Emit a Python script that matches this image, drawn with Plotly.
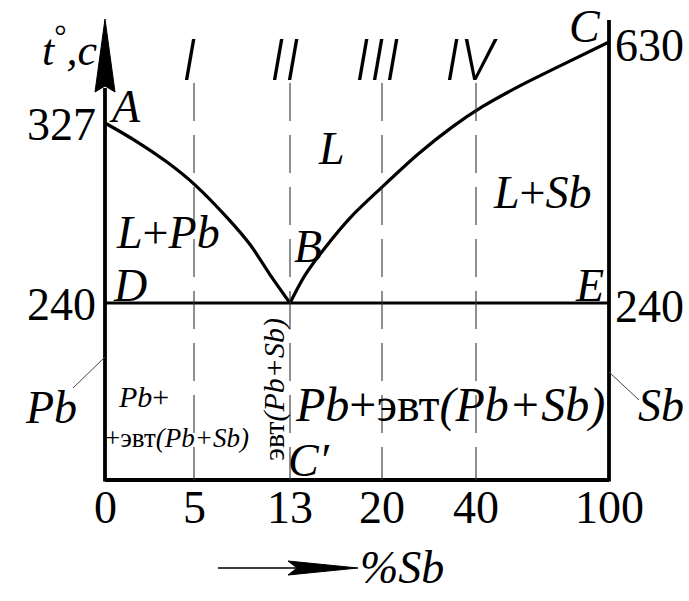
import numpy as np
import plotly.graph_objects as go

# ---------------- data ----------------
comp_ticks = [0, 5, 13, 20, 40, 100]           # % Sb
comp_labels = ["0", "5", "13", "20", "40", "100"]
alloy_comp = [5, 13, 20, 40]
alloy_labels = ["I", "II", "III", "IV"]
temp_left = [327, 240]
temp_right = [630, 240]
eutectic_T = 240
eutectic_comp = 13

# liquidus A-B (Pb side)
liqA_comp = [0, 1.6, 3.5, 5.1, 7.8, 9.7, 11.3, 13]
liqA_temp = [327, 319, 308, 297, 281, 268, 254, 240]
# liquidus B-C (Sb side)
liqC_comp = [13, 14.1, 15.7, 17.7, 20, 27.7, 34.9, 42.7, 58.9, 77, 100]
liqC_temp = [240, 253, 267, 282, 296, 312, 325, 387, 462, 537, 630]

# ---------------- schematic scale (non-linear axes of the diagram) ----------------
X_PX = [105, 194, 290, 382, 476, 609]
T_ANCH = [240, 327, 630]
T_PX = [303, 123, 42]
Y_BASE = 480
Y_DASH_TOP = 83


def sx(c):
    return np.interp(c, comp_ticks, X_PX)


def sy(t):
    return np.interp(t, T_ANCH, T_PX)


SERIF = "Liberation Serif, Times New Roman, serif"
BIG = 46

fig = go.Figure()

# liquidus curves
for cs, ts in ((liqA_comp, liqA_temp), (liqC_comp, liqC_temp)):
    fig.add_trace(go.Scatter(
        x=sx(cs), y=sy(ts), mode="lines",
        line=dict(color="black", width=3.2, shape="spline", smoothing=0.8),
        hoverinfo="skip"))

x0, x1 = sx(0), sx(100)
shapes = []
# frame
shapes.append(dict(type="line", x0=x0, x1=x0, y0=Y_BASE + 1.5, y1=88, line=dict(color="black", width=3.8)))
shapes.append(dict(type="line", x0=x1, x1=x1, y0=Y_BASE + 1.5, y1=20, line=dict(color="black", width=3.8)))
shapes.append(dict(type="line", x0=x0, x1=x1, y0=Y_BASE, y1=Y_BASE, line=dict(color="black", width=3.8)))
# eutectic line
shapes.append(dict(type="line", x0=x0, x1=x1, y0=sy(eutectic_T), y1=sy(eutectic_T),
                   line=dict(color="black", width=3.2)))
# alloy dashed lines
for c in alloy_comp:
    shapes.append(dict(type="line", x0=sx(c), x1=sx(c), y0=Y_DASH_TOP, y1=Y_BASE,
                       line=dict(color="#333333", width=1.1, dash="38px,14px")))
# top arrow head on temperature axis
shapes.append(dict(type="path", path=f"M {x0},19 L {x0-10},92 L {x0},86 L {x0+10},92 Z",
                   fillcolor="black", line=dict(color="black", width=1)))
# bottom composition arrow
shapes.append(dict(type="line", x0=218, x1=296, y0=568, y1=568, line=dict(color="black", width=1.5)))
shapes.append(dict(type="path", path="M 358,568 L 288,561 L 297,568 L 288,575 Z",
                   fillcolor="black", line=dict(color="black", width=1)))
# leader lines for Pb / Sb
shapes.append(dict(type="line", x0=73, x1=x0, y0=388, y1=357, line=dict(color="#444444", width=1)))
shapes.append(dict(type="line", x0=x1, x1=639, y0=372, y1=400, line=dict(color="#444444", width=1)))

ann = []


def txt(x, y, s, size=BIG, xa="center", ya="middle", angle=0, family=SERIF, **fkw):
    ann.append(dict(x=x, y=y, text=s, showarrow=False, xanchor=xa, yanchor=ya,
                    textangle=angle, font=dict(family=family, size=size, color="black", **fkw)))


# tick labels along composition
for c, lab in zip(comp_ticks, comp_labels):
    txt(sx(c), 507, lab)
# temperature labels
for t in temp_left:
    txt(98, sy(t) + 1, str(t), xa="right")
for t in temp_right:
    txt(613, sy(t) + 3, str(t), xa="left")
# alloy numerals
for c, lab in zip(alloy_comp, alloy_labels):
    txt(sx(c) - 5, 60, lab, size=58, family="Roboto, Liberation Sans, sans-serif",
        weight=300, style="italic")

# point labels
txt(125, 106, "<i>A</i>")
txt(308, 246, "<i>B</i>")
txt(585, 26, "<i>C</i>")
txt(130, 285, "<i>D</i>")
txt(589, 285, "<i>E</i>")
txt(309, 460, "<i>C′</i>")

# region labels
txt(331, 148, "<i>L</i>")
txt(168, 232, "<i>L</i>+<i>Pb</i>")
txt(542, 192, "<i>L</i>+<i>Sb</i>")
txt(51, 407, "<i>Pb</i>")
txt(661, 405, "<i>Sb</i>")
txt(143, 396, "<i>Pb</i>+", size=30)
txt(177, 438, "+эвт<i>(Pb+Sb)</i>", size=27)
txt(274, 390, "эвт<i>(Pb+Sb)</i>", size=30, angle=-90)
txt(450, 405, "<i>Pb</i>+эвт<i>(Pb+Sb)</i>", size=48)

# axis titles
txt(70, 47, "<i>t</i><sup>°</sup><i>,c</i>", size=44)
txt(402, 567, "<i>%Sb</i>")

fig.update_layout(
    width=689, height=601,
    margin=dict(l=0, r=0, t=0, b=0),
    paper_bgcolor="white", plot_bgcolor="white",
    showlegend=False,
    xaxis=dict(range=[0, 689], visible=False, fixedrange=True),
    yaxis=dict(range=[601, 0], visible=False, fixedrange=True),
    shapes=shapes, annotations=ann,
)

fig.write_html("out.html", config={"displayModeBar": False},
               post_script="document.body.style.margin='0';document.body.style.overflow='hidden';")
